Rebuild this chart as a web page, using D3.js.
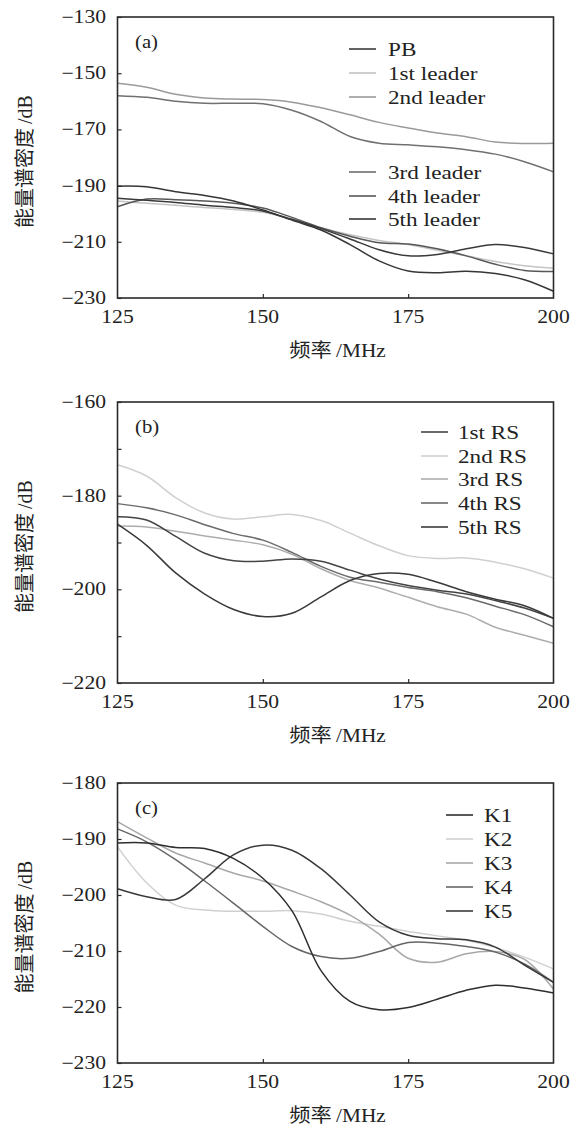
<!DOCTYPE html>
<html>
<head>
<meta charset="utf-8">
<script src="https://cdn.jsdelivr.net/npm/d3@7"></script>
<style>
  html, body { margin: 0; padding: 0; background: #fff; }
  svg { display: block; }
</style>
</head>
<body>
<svg id="chart" width="571" height="1127"></svg>
<script>
// Frequency grid shared by every panel (MHz)
const freqMHz = [125, 130, 135, 140, 145, 150, 155, 160, 165, 170, 175, 180, 185, 190, 195, 200];

// (a) leader stages, energy spectral density in dB
const seriesNamesA = ["PB", "1st leader", "2nd leader", "3rd leader", "4th leader", "5th leader"];
const pbA      = [-194.5, -195.2, -196.0, -197.0, -197.8, -199.0, -202.0, -205.3, -209.0, -212.8, -215.0, -214.5, -212.5, -211.0, -212.0, -214.3];
const leader1A = [-195.5, -196.3, -197.0, -197.8, -198.5, -199.5, -202.0, -205.0, -207.5, -209.5, -211.0, -213.0, -215.0, -217.0, -218.5, -219.4];
const leader2A = [-153.6, -155.0, -157.5, -158.8, -159.2, -159.4, -160.3, -162.3, -164.8, -167.5, -169.5, -171.3, -172.6, -174.5, -175.0, -174.9];
const leader3A = [-158.0, -158.6, -160.0, -160.7, -160.7, -160.9, -163.2, -167.2, -172.5, -174.9, -175.5, -176.2, -177.2, -178.8, -181.5, -185.1];
const leader4A = [-197.5, -194.8, -195.0, -195.5, -196.3, -198.0, -201.3, -205.0, -208.0, -210.3, -210.8, -212.5, -215.0, -218.0, -220.2, -220.6];
const leader5A = [-190.2, -190.4, -192.2, -193.5, -195.5, -198.7, -202.3, -205.8, -211.0, -216.8, -220.4, -221.0, -220.5, -221.3, -223.5, -227.6];
const colorsA  = ["#3a3a3a", "#c4c4c4", "#9a9a9a", "#707070", "#585858", "#363636"];

// (b) return strokes
const seriesNamesB = ["1st RS", "2nd RS", "3rd RS", "4th RS", "5th RS"];
const rs1B = [-184.5, -185.2, -188.7, -192.3, -193.9, -194.0, -193.5, -194.0, -195.9, -197.8, -199.2, -200.2, -201.0, -202.4, -204.0, -206.2];
const rs2B = [-173.4, -175.8, -180.4, -183.7, -185.0, -184.5, -184.0, -185.3, -188.0, -190.7, -192.8, -193.4, -193.3, -194.2, -195.6, -197.6];
const rs3B = [-186.5, -186.7, -187.6, -188.6, -189.5, -190.5, -192.5, -195.6, -198.1, -199.7, -201.7, -203.7, -205.3, -208.1, -209.8, -211.5];
const rs4B = [-181.7, -182.6, -184.1, -186.2, -188.1, -189.5, -192.1, -195.1, -197.4, -198.5, -199.6, -200.5, -201.8, -203.6, -205.4, -208.0];
const rs5B = [-186.1, -190.6, -196.5, -201.0, -204.3, -205.8, -205.1, -201.6, -198.1, -196.6, -196.8, -198.5, -200.5, -202.1, -203.5, -206.2];
const colorsB = ["#444444", "#d0d0d0", "#adadad", "#6a6a6a", "#3a3a3a"];

// (c) K-changes
const seriesNamesC = ["K1", "K2", "K3", "K4", "K5"];
const k1C = [-190.7, -190.7, -191.5, -191.7, -193.5, -197.0, -202.8, -213.5, -219.0, -220.5, -220.1, -218.6, -217.0, -216.1, -216.6, -217.5];
const k2C = [-191.4, -197.8, -201.8, -202.7, -202.9, -202.9, -202.8, -203.4, -204.7, -205.6, -206.5, -207.3, -208.1, -209.4, -211.1, -213.2];
const k3C = [-186.9, -189.8, -192.5, -194.3, -196.1, -197.5, -199.3, -201.2, -203.6, -207.0, -211.3, -212.0, -210.5, -210.1, -211.5, -216.8];
const k4C = [-188.2, -190.5, -193.7, -197.5, -201.5, -205.6, -209.2, -211.0, -211.3, -210.1, -208.5, -208.6, -209.2, -210.2, -212.3, -215.6];
const k5C = [-198.9, -200.3, -200.8, -197.1, -192.8, -191.1, -192.0, -195.3, -200.0, -204.8, -207.2, -207.8, -208.0, -209.3, -212.5, -215.6];
const colorsC = ["#2e2e2e", "#d0d0d0", "#a8a8a8", "#666666", "#3a3a3a"];

// Axis tick values
const xTicks = [125, 150, 175, 200];
const yTicksA = [-130, -150, -170, -190, -210, -230];
const yLabelsA = [-130, -150, -170, -190, -210, -230];
const yTicksB = [-160, -170, -180, -190, -200, -210, -220];
const yLabelsB = [-160, -180, -200, -220];
const yTicksC = [-180, -190, -200, -210, -220, -230];
const yLabelsC = [-180, -190, -200, -210, -220, -230];

const panels = [
  { tag: "(a)", top: 17, bottom: 298, domain: [-230, -130], ticks: yTicksA, labels: yLabelsA,
    names: seriesNamesA, values: [pbA, leader1A, leader2A, leader3A, leader4A, leader5A], colors: colorsA,
    drawOrder: [1, 2, 3, 4, 0, 5],
    legend: { lineX: 349, textX: 388, rows: [49, 73, 97, 172, 196, 219] } },
  { tag: "(b)", top: 402, bottom: 683, domain: [-220, -160], ticks: yTicksB, labels: yLabelsB,
    names: seriesNamesB, values: [rs1B, rs2B, rs3B, rs4B, rs5B], colors: colorsB,
    drawOrder: [1, 2, 3, 0, 4],
    legend: { lineX: 421, textX: 458, rows: [432, 456, 479, 503, 527] } },
  { tag: "(c)", top: 783, bottom: 1063, domain: [-230, -180], ticks: yTicksC, labels: yLabelsC,
    names: seriesNamesC, values: [k1C, k2C, k3C, k4C, k5C], colors: colorsC,
    drawOrder: [1, 2, 3, 4, 0],
    legend: { lineX: 446, textX: 484, rows: [815, 839, 863, 887, 911] } }
];

const SERIF = "'Liberation Serif', 'DejaVu Serif', serif";
const CJK = "'Noto Sans CJK SC', sans-serif";

const svg = d3.select("#chart");
const left = 117.5, right = 553.5;
const minus = v => (v < 0 ? "\u2212" + Math.abs(v) : String(v));

// Widen serif glyphs slightly so the labels get their wide, book-like set
function widen(sel, k) {
  sel.each(function () {
    const w = this.getComputedTextLength();
    if (w > 0) {
      this.setAttribute("textLength", (w * k).toFixed(2));
      this.setAttribute("lengthAdjust", "spacingAndGlyphs");
    }
  });
}

panels.forEach(p => {
  const x = d3.scaleLinear().domain([125, 200]).range([left, right]);
  const y = d3.scaleLinear().domain(p.domain).range([p.bottom, p.top]);
  const g = svg.append("g");

  // curves
  const line = d3.line()
    .x((d, i) => x(freqMHz[i]))
    .y(d => y(d))
    .curve(d3.curveCatmullRom.alpha(0.5));
  p.drawOrder.forEach(i => {
    g.append("path")
      .attr("d", line(p.values[i]))
      .attr("fill", "none")
      .attr("stroke", p.colors[i])
      .attr("stroke-width", 1.5)
      .attr("stroke-linejoin", "round");
  });

  // frame
  g.append("rect")
    .attr("x", left).attr("y", p.top)
    .attr("width", right - left).attr("height", p.bottom - p.top)
    .attr("fill", "none").attr("stroke", "#2a2a2a").attr("stroke-width", 1.6);

  // inward ticks on the left and bottom axes
  const yAxis = d3.axisRight(y).tickValues(p.ticks).tickSize(4).tickFormat("");
  g.append("g").attr("transform", `translate(${left},0)`).call(yAxis)
    .call(s => s.select(".domain").remove())
    .call(s => s.selectAll("line").attr("stroke", "#2a2a2a").attr("stroke-width", 1.2));
  const xAxis = d3.axisTop(x).tickValues(xTicks.slice(1, -1)).tickSize(4).tickFormat("");
  g.append("g").attr("transform", `translate(0,${p.bottom})`).call(xAxis)
    .call(s => s.select(".domain").remove())
    .call(s => s.selectAll("line").attr("stroke", "#2a2a2a").attr("stroke-width", 1.2));

  // tick labels
  const yl = g.selectAll(".ylab").data(p.labels).join("text")
    .attr("font-family", SERIF).attr("fill", "#222")
    .attr("x", 106).attr("y", d => y(d) + 6)
    .attr("text-anchor", "end")
    .attr("font-size", 18)
    .text(d => minus(d));
  widen(yl, 1.2);
  const xl = g.selectAll(".xlab").data(xTicks).join("text")
    .attr("font-family", SERIF).attr("fill", "#222")
    .attr("x", d => x(d)).attr("y", p.bottom + 25)
    .attr("text-anchor", "middle")
    .attr("font-size", 18)
    .text(d => d);
  widen(xl, 1.2);

  // panel tag
  const tg = g.append("text")
    .attr("font-family", SERIF).attr("fill", "#222")
    .attr("x", 135).attr("y", p.top + 31)
    .attr("font-size", 18).text(p.tag);
  widen(tg, 1.15);

  // legend
  p.names.forEach((name, i) => {
    const ry = p.legend.rows[i];
    g.append("line")
      .attr("x1", p.legend.lineX).attr("x2", p.legend.lineX + 27)
      .attr("y1", ry).attr("y2", ry)
      .attr("stroke", p.colors[i]).attr("stroke-width", 1.6);
    const t = g.append("text")
      .attr("font-family", SERIF).attr("fill", "#222")
      .attr("x", p.legend.textX).attr("y", ry + 6.5)
      .attr("font-size", 19).text(name);
    widen(t, 1.22);
  });

  // axis titles
  const xt = g.append("text")
    .attr("x", (left + right) / 2 + 2).attr("y", p.bottom + 59)
    .attr("text-anchor", "middle").attr("font-size", 19).attr("fill", "#222");
  xt.append("tspan").attr("font-family", CJK).text("频率");
  xt.append("tspan").attr("font-family", SERIF).text("\u2009/MHz");
  widen(xt, 1.12);

  const cy = (p.top + p.bottom) / 2 + 4;
  const yt = g.append("text")
    .attr("transform", `translate(32,${cy}) rotate(-90)`)
    .attr("text-anchor", "middle").attr("font-size", 20).attr("fill", "#222");
  yt.append("tspan").attr("font-family", CJK).text("能量谱密度");
  yt.append("tspan").attr("font-family", SERIF).text("\u2009/dB");
});
</script>
</body>
</html>
